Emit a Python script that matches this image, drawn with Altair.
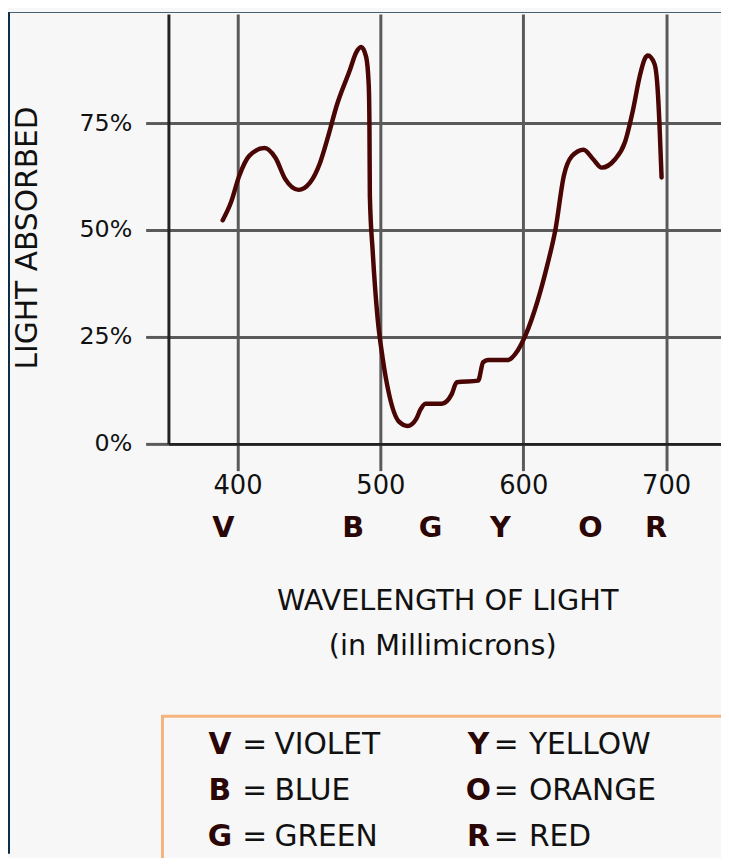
import altair as alt
import pandas as pd

# ---- data ----
wavelength = [389.6, 395.4, 401.2, 408.0, 418.9, 426.5, 433.4, 442.7, 450.7, 457.7,
              463.4, 469.2, 478.5, 483.0, 486.5, 490.0, 491.8, 492.3, 492.6, 494.6,
              498.0, 501.5, 506.0, 513.0, 519.0, 525.0, 528.0, 531.5, 543.0, 550.0,
              553.4, 568.4, 571.9, 575.3, 589.0, 596.0, 601.8, 609.9, 616.8, 622.6,
              628.4, 634.1, 642.2, 649.1, 654.9, 664.1, 671.0, 676.8, 681.4, 685.0,
              687.2, 691.8, 694.1, 695.3, 696.8]
absorbed = [52.3, 56.5, 62.7, 67.3, 69.2, 66.9, 61.9, 59.4, 61.1, 65.7,
            71.9, 78.9, 87.3, 91.5, 92.8, 90.5, 84.0, 75.0, 58.0, 45.0,
            29.5, 20.2, 11.7, 5.2, 4.2, 5.8, 8.0, 9.4, 9.4, 11.7,
            14.4, 14.8, 19.1, 19.6, 19.6, 21.8, 25.6, 33.3, 41.8, 50.3,
            62.7, 67.3, 68.8, 66.5, 64.6, 66.5, 70.4, 78.1, 85.8, 90.0,
            90.8, 88.9, 82.7, 75.0, 62.3]

band_letters = ["V", "B", "G", "Y", "O", "R"]
band_nm = [390, 481, 535, 584, 647, 693]

x_ticks = [400, 500, 600, 700]
y_ticks = [0, 25, 50, 75]

legend_left_letters = ["V", "B", "G"]
legend_left_names = ["VIOLET", "BLUE", "GREEN"]
legend_right_letters = ["Y", "O", "R"]
legend_right_names = ["YELLOW", "ORANGE", "RED"]

x_title = "WAVELENGTH OF LIGHT"
x_subtitle = "(in Millimicrons)"
y_title = "LIGHT ABSORBED"

# ---- style ----
W, H = 558, 434
FONT = "DejaVu Sans"
PAPER = "#f7f7f7"
NAVY = "#0b2c47"
GRID = "#5a5a5a"
AXIS = "#222222"
INK = "#4a0505"
LETTER = "#2a0606"
BOX = "#f4b47c"

xscale = alt.Scale(domain=[351.6, 738.4], nice=False, zero=False)
yscale = alt.Scale(domain=[0, 100.5], nice=False, zero=False)

x_axis = alt.Axis(
    values=x_ticks, title=None, grid=True, gridColor=GRID, gridWidth=3,
    tickSize=27, tickWidth=3, tickColor=GRID,
    domainColor=AXIS, domainWidth=3,
    labelFont=FONT, labelFontSize=26, labelColor="#111111",
    labelPadding=2, labelFlush=False)
y_axis = alt.Axis(
    values=y_ticks, title=None, labelExpr="datum.value + '%'",
    grid=True, gridColor=GRID, gridWidth=3,
    tickSize=23, tickWidth=3, tickColor=GRID,
    domainColor=AXIS, domainWidth=3,
    labelFont=FONT, labelFontSize=24, labelColor="#111111",
    labelPadding=14)

one = pd.DataFrame({"k": [0]})

curve_df = pd.DataFrame({"nm": wavelength, "pct": absorbed})
curve = alt.Chart(curve_df).mark_line(
    interpolate="monotone", strokeWidth=4.5, color=INK,
    strokeCap="round", strokeJoin="round"
).encode(
    x=alt.X("nm:Q", scale=xscale, axis=x_axis),
    y=alt.Y("pct:Q", scale=yscale, axis=y_axis),
)

band_df = pd.DataFrame({"nm": band_nm, "letter": band_letters})
bands = alt.Chart(band_df).mark_text(
    font=FONT, fontSize=29, fontWeight="bold", color=LETTER,
    baseline="alphabetic", align="center"
).encode(
    x=alt.X("nm:Q", scale=xscale, axis=x_axis),
    y=alt.value(528),
    text="letter:N",
)

def label(txt, x, y, size, angle=0, weight="normal", align="center",
          color="#111111", line_height=None):
    kw = dict(font=FONT, fontSize=size, fontWeight=weight, color=color,
              baseline="alphabetic", align=align)
    if angle:
        kw["angle"] = angle
    if line_height:
        kw["lineBreak"] = "\n"
        kw["lineHeight"] = line_height
    return alt.Chart(pd.DataFrame({"t": [txt]})).mark_text(**kw).encode(
        x=alt.value(x), y=alt.value(y), text="t:N")

title1 = label(x_title, 282, 602, 29)
title2 = label(x_subtitle, 277, 647, 29)
ytitle = label(y_title, -133, 226, 30, angle=270)

LH = 46.5
leg = [
    label("\n".join(legend_left_letters), 52, 747, 30, weight="bold",
          color=LETTER, line_height=LH),
    label("\n".join(["="] * len(legend_left_letters)), 87, 747, 30,
          line_height=LH),
    label("\n".join(legend_left_names), 107, 747, 30, align="left",
          line_height=LH),
    label("\n".join(legend_right_letters), 313, 747, 30, weight="bold",
          color=LETTER, line_height=LH),
    label("\n".join(["="] * len(legend_right_letters)), 341, 747, 30,
          line_height=LH),
    label("\n".join(legend_right_names), 364, 747, 30, align="left",
          line_height=LH),
]

box = alt.Chart(one).mark_rect(fillOpacity=0, stroke=BOX, strokeWidth=3).encode(
    x=alt.value(-6), x2=alt.value(W + 20), y=alt.value(709), y2=alt.value(H + 430))

navy_left = alt.Chart(one).mark_rect(color=NAVY).encode(
    x=alt.value(-162), x2=alt.value(-160), y=alt.value(-2), y2=alt.value(H + 414))
navy_top = alt.Chart(one).mark_rect(color=NAVY).encode(
    x=alt.value(-162), x2=alt.value(W), y=alt.value(-2), y2=alt.value(-1))

chart = alt.layer(
    navy_left, navy_top, box, curve, bands, title1, title2, ytitle, *leg
).properties(
    width=W, height=H, background=PAPER,
    padding={"left": 162, "top": 2, "right": 0, "bottom": 414},
    autosize=alt.AutoSizeParams(type="none"),
).configure_view(stroke=None)

chart.save("out.html", embed_options={"renderer": "svg", "actions": False})
